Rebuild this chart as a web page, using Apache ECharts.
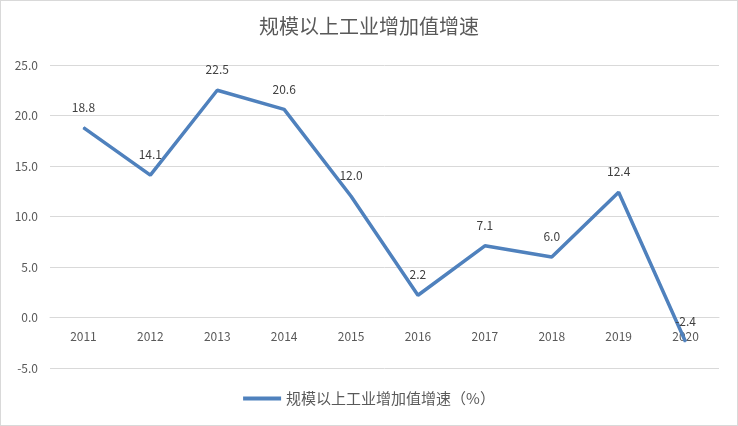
<!DOCTYPE html>
<html>
<head>
<meta charset="utf-8">
<script src="https://cdn.jsdelivr.net/npm/echarts@6/dist/echarts.min.js"></script>
<style>
  html, body { margin: 0; padding: 0; background: #fff; }
  #chart { width: 736px; height: 424px; border: 1px solid #d9d9d9; }
</style>
</head>
<body>
<div id="chart"></div>
<script>
// 年份
const years = ['2011', '2012', '2013', '2014', '2015', '2016', '2017', '2018', '2019', '2020'];
// 规模以上工业增加值增速（%）
const growth = [18.8, 14.1, 22.5, 20.6, 12.0, 2.2, 7.1, 6.0, 12.4, -2.4];
const seriesName = '规模以上工业增加值增速（%）';

const chart = echarts.init(document.getElementById('chart'));
const font = '"Noto Sans CJK SC", "Microsoft YaHei", sans-serif';

chart.setOption({
  animation: false,
  textStyle: { fontFamily: font },
  title: {
    text: '规模以上工业增加值增速',
    left: 'center',
    top: 10,
    textStyle: { fontSize: 20, fontWeight: 'normal', color: '#595959', fontFamily: font }
  },
  grid: { left: 49, right: 18, top: 64, bottom: 57 },
  legend: {
    bottom: 14,
    itemWidth: 38,
    itemHeight: 4,
    icon: 'rect',
    textStyle: { fontSize: 15, color: '#595959' },
    data: [seriesName]
  },
  xAxis: {
    type: 'category',
    data: years,
    axisLine: { show: true, onZero: true, lineStyle: { color: '#d9d9d9' } },
    axisTick: { show: false },
    // 标签放在 0 线下方
    axisLabel: { color: '#595959', fontSize: 12, margin: -38 }
  },
  yAxis: {
    type: 'value',
    min: -5,
    max: 25,
    interval: 5,
    axisLine: { show: false },
    axisTick: { show: false },
    splitLine: { lineStyle: { color: '#d9d9d9' } },
    axisLabel: {
      color: '#595959',
      fontSize: 12,
      margin: 12,
      formatter: v => v.toFixed(1)
    }
  },
  series: [{
    name: seriesName,
    type: 'line',
    data: growth,
    symbol: 'circle',
    symbolSize: 1,
    showSymbol: true,
    lineStyle: { width: 3.5, color: '#4f81bd' },
    itemStyle: { color: '#4f81bd' },
    label: {
      show: true,
      position: 'top',
      distance: 14,
      color: '#404040',
      fontSize: 12,
      formatter: p => p.value.toFixed(1)
    }
  }]
});
</script>
</body>
</html>
